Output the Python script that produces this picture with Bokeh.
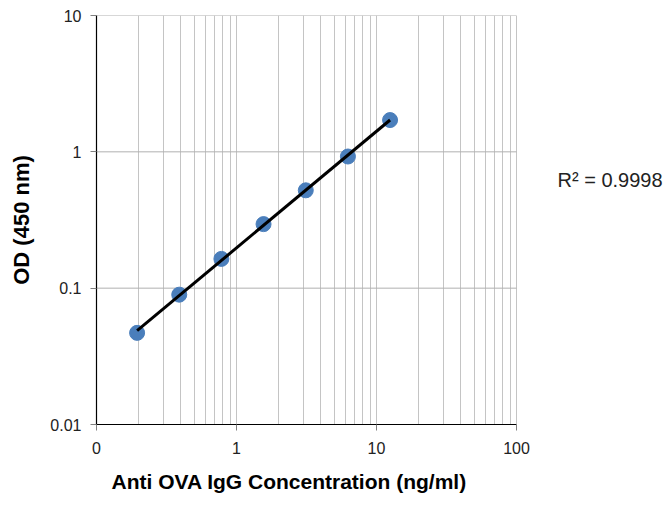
import numpy as np
from bokeh.plotting import figure
from bokeh.models import FixedTicker, Label, Range1d, Title
from bokeh.embed import file_html
from bokeh.resources import INLINE

# Data
conc = [0.195, 0.39, 0.78, 1.56, 3.125, 6.25, 12.5]
od = [0.047, 0.0896, 0.164, 0.295, 0.522, 0.924, 1.71]
x_ticks = [0.1, 1, 10, 100]
x_tick_labels = ["0", "1", "10", "100"]
y_ticks = [0.01, 0.1, 1, 10]
y_tick_labels = ["0.01", "0.1", "1", "10"]
r2_text = "R² = 0.9998"
x_title = "Anti OVA IgG Concentration (ng/ml)"
y_title = "OD (450 nm)"

x_minor = [m * d for d in [0.1, 1, 10] for m in range(2, 10)]

# layout: axes frame spans 96..516 px for 0.1..100; frame is extended to the
# right edge so that the R² note (outside the axes) can be drawn
W, H = 669, 508
LEFT, AX_RIGHT, TOP, BOTTOM = 96, 516, 15, 84
decade_px = (AX_RIGHT - LEFT) / 3.0
x_end = 10 ** (np.log10(x_ticks[0]) + (W - LEFT) / decade_px)

p = figure(width=W, height=H, x_axis_type="log", y_axis_type="log",
           x_range=Range1d(x_ticks[0], x_end), y_range=Range1d(y_ticks[0], y_ticks[-1]),
           output_backend="svg", toolbar_location=None,
           min_border_left=LEFT, min_border_right=0, min_border_top=TOP, min_border_bottom=BOTTOM)
p.outline_line_color = None
p.background_fill_color = "white"
p.border_fill_color = "white"

# horizontal grid lines limited to the axes extent
p.ygrid.visible = False
p.segment(x0=x_ticks[0], x1=x_ticks[-1], y0=y_ticks[1:], y1=y_ticks[1:],
          line_color="#b0b0b0", line_width=1)

# power-law trendline fitted from the data
b, a = np.polyfit(np.log10(conc), np.log10(od), 1)
xs = np.array([conc[0], conc[-1]])
ys = 10 ** (a + b * np.log10(xs))

p.scatter(conc, od, size=15, color="#4a7ebb", line_color="#4a7ebb")
p.line(xs, ys, line_color="black", line_width=3)

p.xaxis.ticker = FixedTicker(ticks=x_ticks, minor_ticks=x_minor)
p.yaxis.ticker = FixedTicker(ticks=y_ticks, minor_ticks=[])
p.xaxis.bounds = (x_ticks[0], x_ticks[-1])
p.xaxis.major_label_overrides = {t: l for t, l in zip(x_ticks, x_tick_labels)}
p.yaxis.major_label_overrides = {t: l for t, l in zip(y_ticks, y_tick_labels)}

p.xgrid.grid_line_color = "#c4c4c4"
p.xgrid.minor_grid_line_color = "#c4c4c4"

for ax in (p.xaxis, p.yaxis):
    ax.axis_line_color = "black"
    ax.axis_line_width = 1.2
    ax.major_tick_line_color = "#808080"
    ax.major_tick_out = 6
    ax.major_tick_in = 0
    ax.minor_tick_out = 0
    ax.minor_tick_in = 0
    ax.major_label_text_font = "Liberation Sans"
    ax.major_label_text_font_size = "16px"
    ax.major_label_text_color = "#222222"
    ax.axis_label_text_font = "Liberation Sans"
    ax.axis_label_text_font_style = "bold"
    ax.axis_label_text_color = "black"

p.yaxis.axis_label = y_title
p.yaxis.axis_label_text_font_size = "22px"
p.xaxis.major_label_standoff = 11
p.yaxis.major_label_standoff = 9
p.yaxis.axis_label_standoff = 13

# x-axis title, left-aligned so it sits slightly left of the axes centre
p.add_layout(Title(text=x_title, align="left", offset=15, standoff=22,
                   text_font="Liberation Sans", text_font_size="21px",
                   text_font_style="bold", text_color="black"), "below")

p.add_layout(Label(x=461, y=245, x_units="screen", y_units="screen", text=r2_text,
                   text_baseline="middle",
                   text_font="Liberation Sans", text_font_size="20px",
                   text_color="#222222"))

open("out.html", "w").write(file_html(p, INLINE))
